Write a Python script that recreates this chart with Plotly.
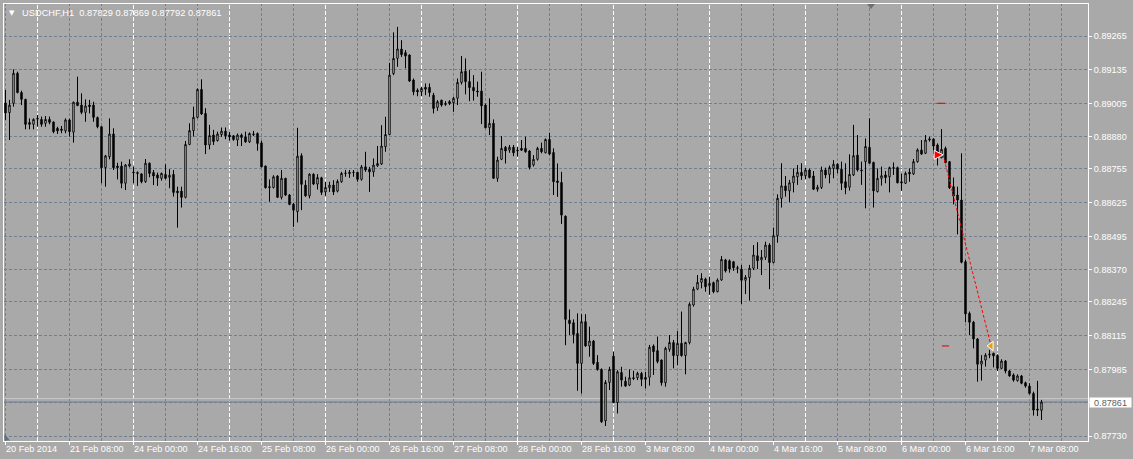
import plotly.graph_objects as go

# ---------------- data (USDCHF, H1) ----------------
opens = [
0.89008,0.88971,0.89007,0.89122,0.89048,0.89022,0.88933,0.88926,0.88946,0.88945,
0.88930,0.88945,0.88935,0.88911,0.88908,0.88901,0.88943,0.88896,0.89011,0.89000,
0.88972,0.89000,0.89000,0.88952,0.88917,0.88760,0.88802,0.88889,0.88766,0.88766,
0.88700,0.88766,0.88743,0.88741,0.88736,0.88706,0.88777,0.88741,0.88732,0.88719,
0.88734,0.88723,0.88734,0.88670,0.88670,0.88646,0.88849,0.88902,0.88953,0.89060,
0.88968,0.88847,0.88885,0.88864,0.88887,0.88900,0.88885,0.88882,0.88866,0.88885,
0.88878,0.88859,0.88886,0.88891,0.88855,0.88766,0.88687,0.88684,0.88728,0.88646,
0.88719,0.88655,0.88620,0.88591,0.88806,0.88693,0.88652,0.88735,0.88697,0.88721,
0.88667,0.88683,0.88693,0.88670,0.88706,0.88737,0.88742,0.88741,0.88742,0.88715,
0.88763,0.88754,0.88744,0.88767,0.88774,0.88840,0.88887,0.89121,0.89179,0.89215,
0.89201,0.89192,0.89096,0.89057,0.89051,0.89068,0.89068,0.89038,0.88991,0.89019,
0.89006,0.89013,0.89009,0.89026,0.89087,0.89130,0.89090,0.89068,0.89054,0.89054,
0.89000,0.88913,0.88930,0.88719,0.88792,0.88838,0.88827,0.88838,0.88827,0.88834,
0.88834,0.88824,0.88770,0.88792,0.88834,0.88817,0.88868,0.88818,0.88709,0.88703,
0.88574,0.88175,0.88165,0.88124,0.88009,0.88169,0.88076,0.88095,0.88013,0.87986,
0.87789,0.87936,0.88037,0.87859,0.87974,0.87941,0.87926,0.87954,0.87954,0.87971,
0.87955,0.87956,0.88076,0.88058,0.88022,0.87935,0.88063,0.88089,0.88039,0.88086,
0.88039,0.88089,0.88233,0.88294,0.88320,0.88333,0.88307,0.88319,0.88284,0.88329,
0.88406,0.88403,0.88399,0.88376,0.88371,0.88328,0.88338,0.88374,0.88422,0.88406,
0.88416,0.88463,0.88396,0.88499,0.88642,0.88690,0.88671,0.88702,0.88725,0.88742,
0.88729,0.88751,0.88728,0.88677,0.88684,0.88751,0.88734,0.88757,0.88773,0.88754,
0.88706,0.88685,0.88732,0.88808,0.88751,0.88783,0.88838,0.88780,0.88668,0.88719,
0.88732,0.88725,0.88760,0.88760,0.88706,0.88700,0.88742,0.88736,0.88783,0.88828,
0.88815,0.88866,0.88870,0.88847,0.88798,0.88834,0.88783,0.88687,0.88655,0.88636,
0.88399,0.88201,0.88167,0.88103,0.88006,0.88022,0.88041,0.88048,0.88039,0.87990,
0.88018,0.87980,0.87965,0.87943,0.87961,0.87935,0.87922,0.87894,0.87834,0.87829]

highs = [
0.89058,0.89020,0.89137,0.89128,0.89055,0.89024,0.88949,0.88949,0.88962,0.88956,
0.88958,0.88956,0.88937,0.88917,0.88920,0.88949,0.88948,0.89013,0.89109,0.89045,
0.89022,0.89020,0.89013,0.88956,0.88919,0.88809,0.88949,0.88911,0.88779,0.88783,
0.88774,0.88792,0.88764,0.88746,0.88738,0.88793,0.88780,0.88751,0.88741,0.88741,
0.88773,0.88754,0.88751,0.88687,0.88687,0.88862,0.88930,0.88994,0.89064,0.89099,
0.88988,0.88924,0.88905,0.88898,0.88914,0.88914,0.88898,0.88885,0.88891,0.88891,
0.88898,0.88895,0.88901,0.88895,0.88863,0.88768,0.88715,0.88731,0.88731,0.88751,
0.88721,0.88659,0.88625,0.88913,0.88815,0.88712,0.88738,0.88738,0.88735,0.88725,
0.88706,0.88706,0.88712,0.88715,0.88744,0.88751,0.88751,0.88751,0.88744,0.88770,
0.88821,0.88763,0.88795,0.88843,0.88923,0.88955,0.89162,0.89279,0.89300,0.89249,
0.89211,0.89194,0.89102,0.89064,0.89070,0.89083,0.89083,0.89047,0.89019,0.89020,
0.89015,0.89019,0.89032,0.89102,0.89188,0.89179,0.89134,0.89115,0.89090,0.89128,
0.89006,0.89026,0.88945,0.88802,0.88881,0.88843,0.88847,0.88847,0.88840,0.88866,
0.88879,0.88827,0.88808,0.88840,0.88856,0.88872,0.88894,0.88834,0.88776,0.88744,
0.88576,0.88216,0.88178,0.88201,0.88198,0.88198,0.88150,0.88099,0.88041,0.87990,
0.87945,0.87996,0.88054,0.87983,0.87996,0.87958,0.87986,0.87981,0.87977,0.87977,
0.87977,0.88080,0.88082,0.88112,0.88024,0.88073,0.88118,0.88099,0.88133,0.88208,
0.88092,0.88243,0.88303,0.88348,0.88355,0.88338,0.88342,0.88323,0.88335,0.88421,
0.88410,0.88408,0.88402,0.88384,0.88387,0.88348,0.88387,0.88463,0.88474,0.88444,
0.88476,0.88470,0.88530,0.88658,0.88777,0.88728,0.88713,0.88757,0.88770,0.88777,
0.88760,0.88757,0.88747,0.88694,0.88764,0.88760,0.88768,0.88789,0.88777,0.88783,
0.88777,0.88811,0.88924,0.88885,0.88783,0.88872,0.88949,0.88783,0.88757,0.88764,
0.88747,0.88764,0.88780,0.88764,0.88738,0.88745,0.88757,0.88793,0.88834,0.88866,
0.88885,0.88879,0.88872,0.88853,0.88908,0.88841,0.88785,0.88722,0.88687,0.88815,
0.88406,0.88208,0.88172,0.88106,0.88041,0.88048,0.88061,0.88050,0.88044,0.88025,
0.88022,0.87984,0.87971,0.87967,0.87965,0.87939,0.87933,0.87901,0.87942,0.87869]

lows = [
0.88943,0.88866,0.88994,0.89045,0.89000,0.88907,0.88907,0.88907,0.88917,0.88917,
0.88917,0.88926,0.88892,0.88889,0.88892,0.88892,0.88879,0.88856,0.88996,0.88965,
0.88936,0.88968,0.88936,0.88911,0.88700,0.88687,0.88792,0.88751,0.88715,0.88681,
0.88674,0.88761,0.88700,0.88690,0.88700,0.88702,0.88723,0.88693,0.88690,0.88710,
0.88715,0.88681,0.88649,0.88530,0.88607,0.88642,0.88846,0.88879,0.88949,0.88962,
0.88812,0.88830,0.88847,0.88860,0.88878,0.88869,0.88863,0.88863,0.88843,0.88843,
0.88855,0.88855,0.88881,0.88825,0.88761,0.88680,0.88629,0.88680,0.88644,0.88638,
0.88651,0.88616,0.88533,0.88550,0.88597,0.88648,0.88642,0.88693,0.88676,0.88655,
0.88652,0.88667,0.88655,0.88665,0.88702,0.88725,0.88721,0.88725,0.88706,0.88710,
0.88744,0.88667,0.88725,0.88763,0.88770,0.88821,0.88885,0.89115,0.89147,0.89185,
0.89141,0.89089,0.89038,0.89034,0.89034,0.89038,0.89032,0.88968,0.88978,0.88994,
0.88997,0.89000,0.88974,0.89000,0.89079,0.89041,0.89015,0.89017,0.89032,0.88927,
0.88911,0.88885,0.88717,0.88706,0.88789,0.88776,0.88817,0.88804,0.88802,0.88824,
0.88817,0.88753,0.88764,0.88787,0.88815,0.88815,0.88808,0.88655,0.88648,0.88544,
0.88079,0.88118,0.88086,0.87904,0.87894,0.88073,0.88035,0.88003,0.87981,0.87781,
0.87769,0.87907,0.87856,0.87817,0.87920,0.87920,0.87922,0.87945,0.87945,0.87922,
0.87913,0.87924,0.87965,0.88009,0.87924,0.87920,0.88054,0.87990,0.88003,0.88035,
0.87967,0.88082,0.88227,0.88290,0.88297,0.88284,0.88272,0.88278,0.88282,0.88326,
0.88358,0.88357,0.88364,0.88355,0.88237,0.88275,0.88250,0.88367,0.88371,0.88348,
0.88406,0.88294,0.88393,0.88472,0.88607,0.88649,0.88627,0.88665,0.88694,0.88713,
0.88715,0.88719,0.88674,0.88668,0.88678,0.88719,0.88700,0.88719,0.88738,0.88674,
0.88658,0.88672,0.88728,0.88745,0.88694,0.88604,0.88775,0.88607,0.88665,0.88691,
0.88700,0.88665,0.88732,0.88700,0.88671,0.88697,0.88706,0.88732,0.88779,0.88809,
0.88812,0.88860,0.88812,0.88768,0.88796,0.88777,0.88678,0.88619,0.88504,0.88393,
0.88167,0.88118,0.88067,0.87939,0.87943,0.87997,0.88029,0.87994,0.87980,0.87988,
0.87971,0.87958,0.87939,0.87939,0.87929,0.87916,0.87890,0.87809,0.87807,0.87792]

closes = [
0.88970,0.89000,0.89122,0.89048,0.89022,0.88926,0.88926,0.88945,0.88949,0.88926,
0.88945,0.88934,0.88898,0.88901,0.88903,0.88943,0.88898,0.89011,0.88998,0.88972,
0.88997,0.88994,0.88953,0.88917,0.88760,0.88805,0.88889,0.88760,0.88760,0.88700,
0.88770,0.88774,0.88741,0.88738,0.88706,0.88777,0.88738,0.88728,0.88720,0.88738,
0.88719,0.88731,0.88665,0.88664,0.88646,0.88849,0.88902,0.88953,0.89060,0.88966,
0.88847,0.88883,0.88860,0.88889,0.88900,0.88882,0.88878,0.88868,0.88885,0.88876,
0.88859,0.88891,0.88889,0.88853,0.88763,0.88683,0.88684,0.88725,0.88646,0.88719,
0.88655,0.88619,0.88597,0.88804,0.88696,0.88652,0.88735,0.88697,0.88722,0.88665,
0.88684,0.88693,0.88667,0.88707,0.88738,0.88739,0.88738,0.88742,0.88715,0.88763,
0.88751,0.88744,0.88770,0.88776,0.88843,0.88887,0.89115,0.89179,0.89215,0.89194,
0.89188,0.89092,0.89051,0.89051,0.89064,0.89061,0.89048,0.88987,0.89013,0.89000,
0.89003,0.89006,0.89026,0.89087,0.89128,0.89090,0.89067,0.89055,0.89051,0.88997,
0.88913,0.88930,0.88719,0.88789,0.88834,0.88824,0.88838,0.88817,0.88825,0.88827,
0.88821,0.88761,0.88792,0.88834,0.88821,0.88868,0.88812,0.88706,0.88703,0.88578,
0.88178,0.88162,0.88120,0.88009,0.88169,0.88076,0.88095,0.88009,0.87986,0.87785,
0.87936,0.87986,0.87859,0.87977,0.87945,0.87922,0.87954,0.87951,0.87971,0.87948,
0.87948,0.88071,0.88054,0.88016,0.87935,0.88067,0.88089,0.88039,0.88086,0.88039,
0.88089,0.88236,0.88294,0.88320,0.88335,0.88303,0.88316,0.88284,0.88329,0.88408,
0.88364,0.88371,0.88376,0.88374,0.88328,0.88339,0.88374,0.88425,0.88403,0.88416,
0.88463,0.88396,0.88499,0.88642,0.88690,0.88672,0.88702,0.88728,0.88742,0.88729,
0.88751,0.88722,0.88677,0.88685,0.88751,0.88732,0.88760,0.88773,0.88754,0.88700,
0.88683,0.88734,0.88806,0.88751,0.88748,0.88841,0.88777,0.88671,0.88719,0.88729,
0.88722,0.88760,0.88758,0.88702,0.88702,0.88738,0.88736,0.88783,0.88828,0.88812,
0.88866,0.88870,0.88843,0.88809,0.88830,0.88779,0.88683,0.88651,0.88636,0.88397,
0.88199,0.88167,0.88103,0.88006,0.88018,0.88041,0.88044,0.88038,0.87990,0.88018,
0.87980,0.87961,0.87945,0.87961,0.87933,0.87922,0.87894,0.87830,0.87830,0.87861]

bars = list(range(len(opens)))

date_labels = ["20 Feb 2014", "21 Feb 08:00", "24 Feb 00:00", "24 Feb 16:00",
               "25 Feb 08:00", "26 Feb 00:00", "26 Feb 16:00", "27 Feb 08:00",
               "28 Feb 00:00", "28 Feb 16:00", "3 Mar 08:00", "4 Mar 00:00",
               "4 Mar 16:00", "5 Mar 08:00", "6 Mar 00:00", "6 Mar 16:00",
               "7 Mar 08:00"]
date_label_bars = [0, 16, 32, 48, 64, 80, 96, 112, 128, 144, 160, 176, 192,
                   208, 224, 240, 256]
day_start_bars = [8, 32, 56, 80, 104, 128, 152, 176, 200, 224, 248]
grid_step_bars = 8

price_labels = ["0.89265", "0.89135", "0.89005", "0.88880", "0.88755",
                "0.88625", "0.88495", "0.88370", "0.88245", "0.88115",
                "0.87985", "0.87858", "0.87730"]
price_label_text = price_labels[:11] + [""] + price_labels[12:]

title_text = "USDCHF,H1  0.87829 0.87869 0.87792 0.87861"
bid_price = 0.87861
ask_price = 0.87874

# trade (sell) marks
trade_bars = [234.4, 246.4]
trade_prices = [0.88809, 0.88076]
sl_bars, sl_price = [232.8, 234.9], 0.89007
tp_bars, tp_price = [234.1, 235.9], 0.88076

# ---------------- figure ----------------
BG = "#A9A9A9"
GRID = "#6F8094"
W, H = 1133, 459
ML, MR, MT, MB = 4, 45, 4, 18
PW, PH = W - ML - MR, H - MT - MB
FONT = "Liberation Sans, Arial, sans-serif"
N_VIEW = PW / 4.0


def px_x(x):
    return (x - ML) / PW


def px_y(y):
    return 1 - (y - MT) / PH


fig = go.Figure()

fig.add_trace(go.Candlestick(
    x=bars, open=opens, high=highs, low=lows, close=closes,
    increasing=dict(fillcolor="white", line=dict(color="black", width=1)),
    decreasing=dict(fillcolor="black", line=dict(color="black", width=1)),
    whiskerwidth=0, hoverinfo="skip", showlegend=False,
))

# trade line and markers
fig.add_trace(go.Scatter(x=trade_bars, y=trade_prices, mode="lines",
                         line=dict(color="#FF0000", width=1, dash="3px,2px"),
                         showlegend=False, hoverinfo="skip"))
fig.add_trace(go.Scatter(x=sl_bars, y=[sl_price, sl_price], mode="lines",
                         line=dict(color="#D00000", width=1),
                         showlegend=False, hoverinfo="skip"))
fig.add_trace(go.Scatter(x=tp_bars, y=[tp_price, tp_price], mode="lines",
                         line=dict(color="#E00000", width=1),
                         showlegend=False, hoverinfo="skip"))
fig.add_trace(go.Scatter(x=[trade_bars[0]], y=[trade_prices[0]], mode="markers",
                         marker=dict(symbol="arrow-right", size=9, color="#FF0000",
                                     line=dict(color="white", width=1)),
                         showlegend=False, hoverinfo="skip"))
fig.add_trace(go.Scatter(x=[trade_bars[1]], y=[trade_prices[1]], mode="markers",
                         marker=dict(symbol="triangle-left", size=8, color="#E0A010",
                                     line=dict(color="white", width=1)),
                         showlegend=False, hoverinfo="skip"))

x_range = [-0.375, -0.375 + N_VIEW]
p_top = 0.89265 + (36 - MT) * 3.836e-5
p_bot = 0.89265 - (MT + PH - 36) * 3.836e-5

shapes = []
# vertical grid (slate dashed) and day separators (white dashed)
b = 0
while b < x_range[1]:
    if b in day_start_bars:
        shapes.append(dict(type="line", xref="x", yref="paper", x0=b, x1=b, y0=0, y1=1,
                           line=dict(color="white", width=1, dash="4px,2px"), layer="between"))
    else:
        shapes.append(dict(type="line", xref="x", yref="paper", x0=b, x1=b, y0=0, y1=1,
                           line=dict(color=GRID, width=1, dash="3px,2px"), layer="between"))
    b += grid_step_bars
# ask line & bid line
shapes.append(dict(type="line", xref="paper", yref="y", x0=0, x1=1, y0=ask_price, y1=ask_price,
                   line=dict(color="#C8C8C8", width=1), layer="between"))
shapes.append(dict(type="line", xref="paper", yref="y", x0=0, x1=1, y0=bid_price, y1=bid_price,
                   line=dict(color="#6F8094", width=1), layer="between"))
# chart shift marker at top
shapes.append(dict(type="path", xref="paper", yref="paper",
                   path=f"M {px_x(867)} {px_y(4)} L {px_x(875)} {px_y(4)} L {px_x(871)} {px_y(9)} Z",
                   fillcolor="#707070", line=dict(width=0), layer="above"))
# scale-fix corner marker bottom-left
shapes.append(dict(type="path", xref="paper", yref="paper",
                   path=f"M {px_x(4.5)} {px_y(434)} L {px_x(4.5)} {px_y(440.5)} L {px_x(10)} {px_y(440.5)} Z",
                   fillcolor="#5F7080", line=dict(width=0), layer="above"))

annotations = []
for lab, bb in zip(date_labels, date_label_bars):
    annotations.append(dict(x=bb, xref="x", y=0, yref="paper", text=lab, showarrow=False,
                            xanchor="left", yanchor="top", xshift=-2, yshift=-1,
                            font=dict(family=FONT, size=9.1, color="white")))
# title
annotations.append(dict(x=px_x(7), y=px_y(13), xref="paper", yref="paper", text="▼",
                        showarrow=False, xanchor="left", yanchor="middle",
                        font=dict(family="DejaVu Sans", size=7, color="white")))
annotations.append(dict(x=px_x(19.5), y=px_y(13), xref="paper", yref="paper", text=title_text,
                        showarrow=False, xanchor="left", yanchor="middle",
                        font=dict(family=FONT, size=9.3, color="white")))
# current price label
annotations.append(dict(x=1, xref="paper", y=bid_price, yref="y", text="0.87861",
                        showarrow=False, xanchor="left", yanchor="middle", xshift=1,
                        bgcolor="white", width=41, height=9, borderpad=0,
                        font=dict(family=FONT, size=9.1, color="#606060")))

fig.update_layout(
    width=W, height=H,
    margin=dict(l=ML, r=MR, t=MT, b=MB, pad=0, autoexpand=False),
    paper_bgcolor=BG, plot_bgcolor=BG,
    boxgap=0.5,
    showlegend=False,
    shapes=shapes, annotations=annotations,
    xaxis=dict(range=x_range, rangeslider=dict(visible=False), automargin=False,
               tickmode="array", tickvals=date_label_bars, ticktext=[""] * len(date_label_bars),
               ticks="outside", ticklen=3, tickcolor="white", tickwidth=1,
               showgrid=False,
               showline=True, linecolor="white", linewidth=1, mirror=True,
               zeroline=False, fixedrange=True),
    yaxis=dict(range=[p_bot, p_top], side="right", automargin=False,
               tickmode="array", tickvals=[float(s) for s in price_labels],
               ticktext=price_label_text,
               ticks="outside", ticklen=3, tickcolor="white", tickwidth=1,
               tickfont=dict(family=FONT, size=9.1, color="white"),
               showgrid=True, gridcolor=GRID, griddash="3px,2px", gridwidth=1,
               showline=True, linecolor="white", linewidth=1, mirror=True,
               zeroline=False, fixedrange=True),
)

fig.write_html("out.html", config={"displayModeBar": False},
               post_script="document.body.style.margin='0';document.body.style.background='" + BG + "';")
